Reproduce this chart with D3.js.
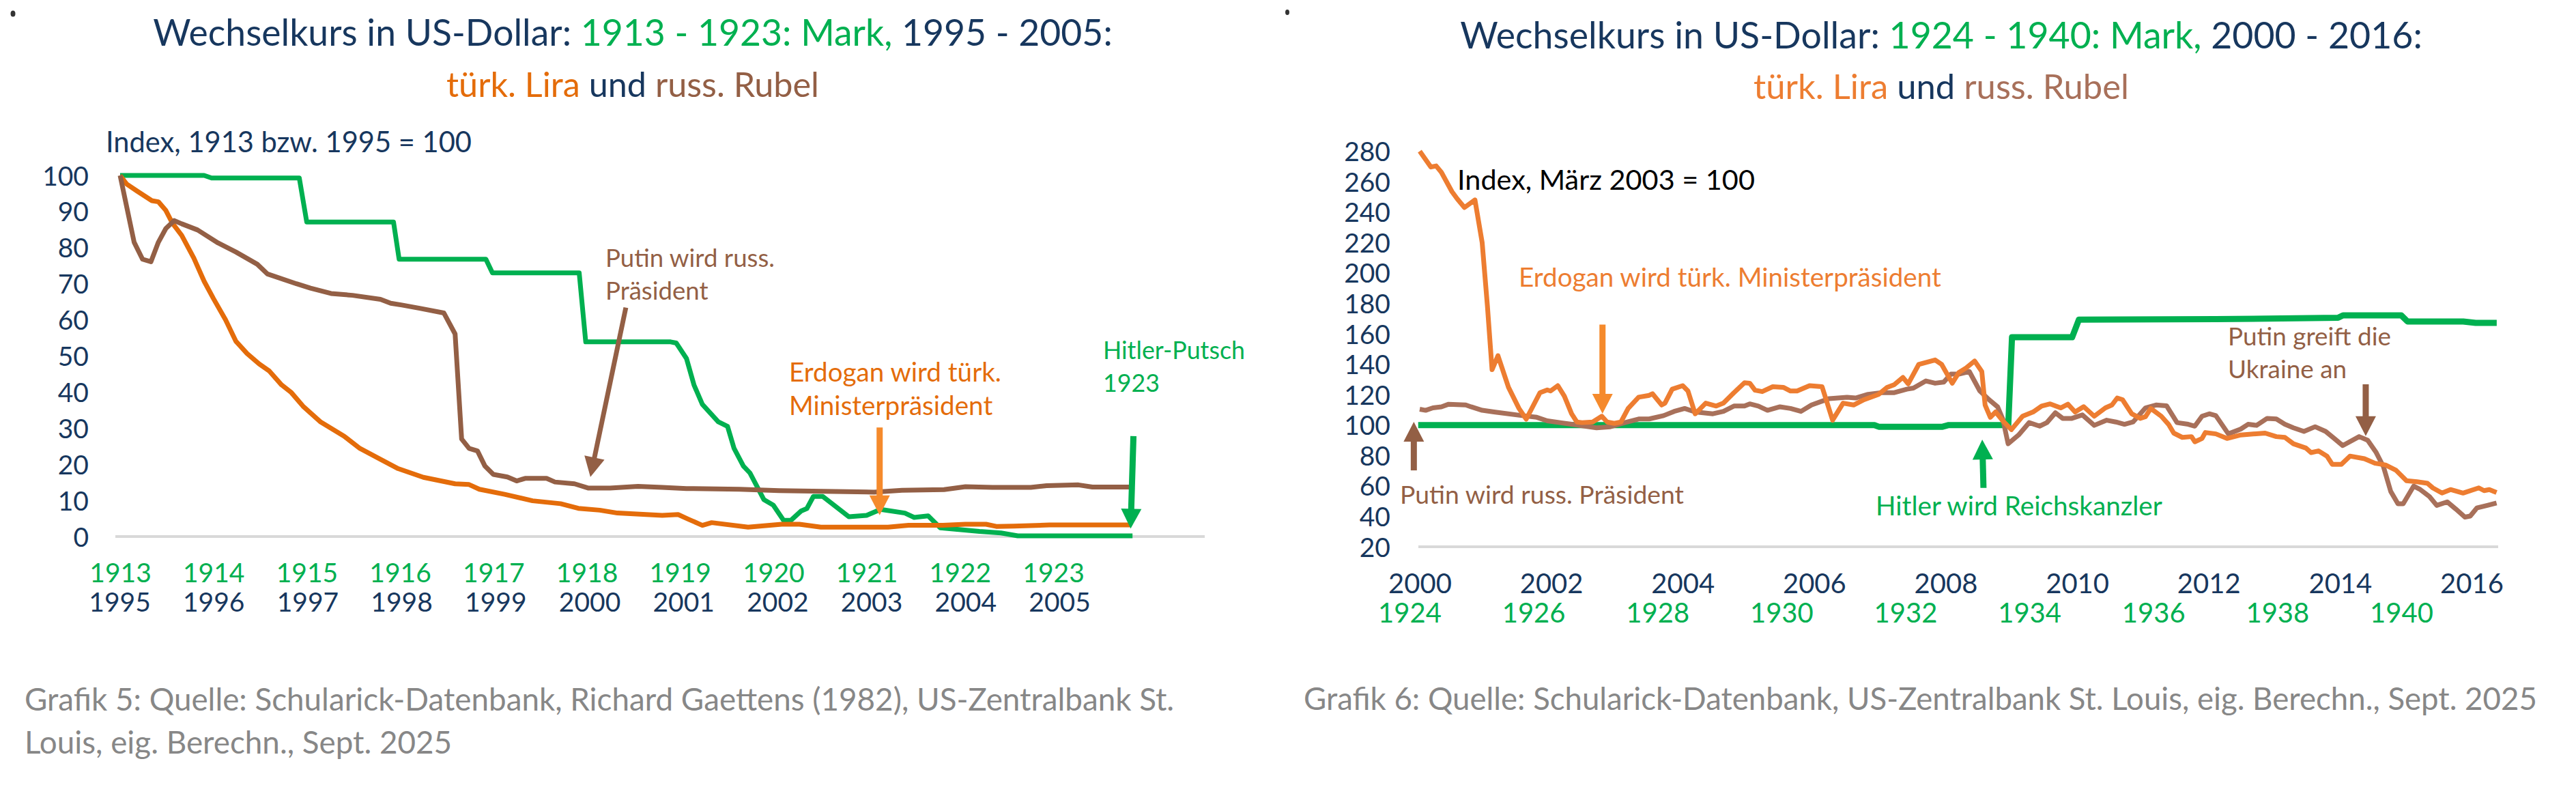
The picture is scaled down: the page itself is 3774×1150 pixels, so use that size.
<!DOCTYPE html>
<html><head><meta charset="utf-8">
<script src="https://cdn.jsdelivr.net/npm/d3@7"></script>
<style>
body{margin:0;background:#fff}
svg{display:block}
text{font-family:Lato,"Open Sans",sans-serif}
</style>
</head><body>
<svg id="chart" width="3774" height="1150"></svg>
<script>
// ================= DATA =================
// Left chart (Grafik 5)
const leftYTicks = [0,10,20,30,40,50,60,70,80,90,100];
const leftGreenYears = [1913,1914,1915,1916,1917,1918,1919,1920,1921,1922,1923];
const leftNavyYears = [1995,1996,1997,1998,1999,2000,2001,2002,2003,2004,2005];

// Mark 1913-1923, index 1913 = 100 (decimal year, value)
const markLeft = [[1913.0,100],[1913.90,100],[1913.98,99.3],[1914.92,99.3],[1915.0,87.1],[1915.93,87.1],[1915.99,76.8],[1916.92,76.8],[1916.99,73.0],[1917.92,73.0],[1917.99,53.9],[1918.90,53.9],[1918.96,53.6],[1919.07,49.3],[1919.15,42],[1919.24,36.6],[1919.41,31.8],[1919.51,30.5],[1919.58,24.4],[1919.68,19.5],[1919.75,17.6],[1919.90,10.2],[1920.0,8.7],[1920.11,4.5],[1920.19,4.5],[1920.30,7.1],[1920.36,7.75],[1920.43,11.1],[1920.53,11.1],[1920.81,5.5],[1921.0,5.85],[1921.15,7.5],[1921.41,6.5],[1921.51,5.3],[1921.66,5.7],[1921.79,2.4],[1922.21,1.4],[1922.44,1.0],[1922.62,0.2],[1923.85,0.2]];

// Turkish lira 1995-2005, index 1995 = 100
const liraLeft = [[1995.0,100],[1995.07,97.6],[1995.18,95.7],[1995.34,93],[1995.41,92.7],[1995.49,90.3],[1995.56,86.8],[1995.66,83.4],[1995.79,77.1],[1995.90,70.7],[1996.0,65.9],[1996.13,60],[1996.24,54.1],[1996.36,50.7],[1996.49,47.8],[1996.60,45.8],[1996.73,42],[1996.83,40],[1996.96,36.1],[1997.15,31.7],[1997.40,27.8],[1997.57,24.4],[1997.79,21.4],[1997.98,18.8],[1998.25,16.4],[1998.59,14.6],[1998.74,14.4],[1998.85,13.1],[1999.12,11.7],[1999.42,9.9],[1999.72,9.1],[1999.91,7.8],[2000.14,7.3],[2000.33,6.5],[2000.81,5.85],[2000.98,6.1],[2001.09,4.8],[2001.24,3.1],[2001.34,3.85],[2001.73,2.6],[2002.09,3.4],[2002.28,3.4],[2002.51,2.6],[2003.23,2.6],[2003.45,3.1],[2003.82,3.1],[2004.06,3.4],[2004.28,3.4],[2004.39,2.8],[2004.58,2.9],[2004.96,3.2],[2005.83,3.2]];

// Russian rubel 1995-2005, index 1995 = 100
const rubelLeft = [[1995.0,100],[1995.05,93.8],[1995.15,81.5],[1995.24,76.8],[1995.33,76.1],[1995.41,81.5],[1995.49,85.3],[1995.58,87.5],[1995.66,86.6],[1995.83,84.9],[1996.05,81.3],[1996.24,78.8],[1996.47,75.4],[1996.58,72.7],[1996.89,70],[1997.04,68.8],[1997.26,67.3],[1997.49,66.8],[1997.79,65.7],[1997.90,64.6],[1998.02,64.1],[1998.21,63.2],[1998.47,61.9],[1998.59,56.1],[1998.66,27.0],[1998.74,24.4],[1998.83,23.7],[1998.91,19.5],[1999.0,17.2],[1999.15,16.5],[1999.25,15.4],[1999.34,16.1],[1999.57,16.1],[1999.66,15.1],[1999.87,14.6],[2000.02,13.4],[2000.25,13.4],[2000.55,13.9],[2000.81,13.6],[2001.07,13.3],[2001.64,13.1],[2002.06,12.7],[2003.08,12.3],[2003.38,12.8],[2003.83,13.0],[2004.06,13.8],[2004.35,13.6],[2004.76,13.6],[2004.93,14.1],[2005.27,14.3],[2005.42,13.7],[2005.83,13.7]];

// Right chart (Grafik 6)
const rightYTicks = [20,40,60,80,100,120,140,160,180,200,220,240,260,280];
const rightNavyYears = [2000,2002,2004,2006,2008,2010,2012,2014,2016];
const rightGreenYears = [1924,1926,1928,1930,1932,1934,1936,1938,1940];

// Mark 1924-1940 (index)
const markRight = [[1924.14,100],[1931.5,100],[1931.57,98.9],[1932.6,98.9],[1932.7,100],[1933.66,100],[1933.72,157.7],[1934.69,157.7],[1934.80,169.3],[1937.0,169.6],[1938.98,170.5],[1939.06,172.1],[1940.0,172.1],[1940.1,168.1],[1941.0,168.1],[1941.2,167.2],[1941.54,167.2]];

// Turkish lira 2000-2016, index März 2003 = 100
const liraRight = [[2000.0,280],[2000.17,269.6],[2000.25,270.3],[2000.33,266.1],[2000.49,253.4],[2000.57,248.7],[2000.68,243],[2000.84,248],[2000.95,219.8],[2001.03,178],[2001.10,136.4],[2001.19,145.6],[2001.35,124.8],[2001.51,110.9],[2001.62,103.9],[2001.83,121.3],[2001.94,123.1],[2001.99,122.4],[2002.10,125.9],[2002.20,119],[2002.31,107.4],[2002.39,102],[2002.47,101.6],[2002.63,102],[2002.77,105.8],[2002.85,102],[2002.96,101.1],[2003.06,102],[2003.17,110.9],[2003.33,118.3],[2003.49,119.5],[2003.54,120.6],[2003.68,113.2],[2003.73,114.4],[2003.84,123.6],[2004.00,125.9],[2004.08,122.4],[2004.19,107.4],[2004.35,114.4],[2004.51,112.5],[2004.62,114.4],[2004.78,121.3],[2004.94,127.8],[2005.02,127.5],[2005.10,122.9],[2005.21,122],[2005.37,125.2],[2005.53,124.8],[2005.64,122.4],[2005.74,122.4],[2005.93,125.9],[2006.12,125.2],[2006.28,103.2],[2006.44,114.4],[2006.60,113.2],[2006.76,116.7],[2006.98,120.2],[2007.11,124.8],[2007.22,126.6],[2007.35,131.3],[2007.43,127.1],[2007.59,139.8],[2007.84,142.8],[2007.94,139.8],[2008.10,127.5],[2008.20,134.5],[2008.31,137.5],[2008.44,142.1],[2008.55,135.2],[2008.60,113.2],[2008.68,105.1],[2008.76,108.6],[2008.87,102.8],[2009.00,97],[2009.17,105.8],[2009.33,108.6],[2009.46,112.5],[2009.59,113.9],[2009.75,111.3],[2009.86,113.7],[2009.97,108.6],[2010.10,112.1],[2010.26,105.8],[2010.43,111.3],[2010.53,113.2],[2010.61,117.8],[2010.69,116.7],[2010.83,107.4],[2010.96,104.4],[2011.04,105.5],[2011.12,110.9],[2011.28,105.8],[2011.39,100.5],[2011.47,94.7],[2011.60,91.9],[2011.74,92.4],[2011.79,89],[2011.90,91.2],[2011.95,95.1],[2012.11,94.2],[2012.28,91.2],[2012.49,93.5],[2012.86,94.7],[2013.03,92.4],[2013.16,91.9],[2013.29,87.7],[2013.48,84.9],[2013.56,81.9],[2013.67,83],[2013.80,79.6],[2013.88,74.2],[2014.02,74.2],[2014.15,79.6],[2014.37,77.9],[2014.53,74.9],[2014.69,73.8],[2014.85,70.3],[2015.01,63.4],[2015.17,62.7],[2015.33,61.7],[2015.41,58.7],[2015.55,55.3],[2015.68,57.6],[2015.87,55.3],[2016.11,58.7],[2016.19,56.9],[2016.27,57.6],[2016.38,55.7]];

// Russian rubel 2000-2016, index März 2003 = 100
const rubelRight = [[2000.0,110.4],[2000.09,109.7],[2000.20,111.3],[2000.33,112],[2000.44,113.7],[2000.70,113.2],[2000.78,112],[2000.95,109.7],[2001.13,108.6],[2001.56,106.2],[2001.78,105.1],[2001.94,102.8],[2002.31,100.5],[2002.69,98.2],[2002.90,98.9],[2003.12,101.6],[2003.33,104],[2003.49,104],[2003.71,106.2],[2003.87,109],[2004.03,110.9],[2004.19,108.6],[2004.46,107.4],[2004.62,109],[2004.78,112.5],[2004.94,112.5],[2005.02,113.9],[2005.15,112.5],[2005.29,109.7],[2005.48,112],[2005.64,110.9],[2005.80,109],[2005.96,113.2],[2006.23,117.4],[2006.50,118.3],[2006.63,117.8],[2006.82,120.2],[2007.03,121.3],[2007.22,121.3],[2007.41,123.6],[2007.51,124.3],[2007.70,129],[2007.84,127.5],[2007.97,128.2],[2008.08,133.5],[2008.20,133.5],[2008.36,135.2],[2008.52,122.4],[2008.66,116.7],[2008.79,112],[2008.87,103.9],[2008.95,87.7],[2009.11,93.5],[2009.27,101.6],[2009.43,99.3],[2009.54,101.6],[2009.67,108.1],[2009.78,104.4],[2009.92,104.4],[2010.08,106.7],[2010.26,99.8],[2010.45,103.2],[2010.59,102],[2010.72,100.5],[2010.85,102],[2011.04,111.3],[2011.20,113.2],[2011.36,112.7],[2011.52,101.6],[2011.69,100.5],[2011.79,99.3],[2011.90,105.8],[2012.01,107.4],[2012.11,106.2],[2012.30,94.2],[2012.49,97.4],[2012.60,100.5],[2012.73,99.8],[2012.89,104.4],[2013.03,104],[2013.16,100.5],[2013.29,98.2],[2013.45,95.8],[2013.62,98.9],[2013.78,95.8],[2013.91,91.2],[2014.04,86.5],[2014.29,92.4],[2014.42,90],[2014.55,81.9],[2014.66,72.6],[2014.77,56.4],[2014.88,48.3],[2014.96,48.3],[2015.12,59.9],[2015.22,57.6],[2015.36,53],[2015.47,47.2],[2015.63,49.5],[2015.76,44.8],[2015.90,39.5],[2015.98,40.2],[2016.08,45.5],[2016.24,47.2],[2016.38,48.8]];

// Annotation arrows, in data units: [fromYear, fromValue, toYear, toValue]
const arrowPutinLeft = [2000.42,63.4,2000.04,16.5];
const arrowErdoganLeft = [2003.14,30.2,2003.14,5.9];
const arrowPutschLeft = [1923.86,27.8,1923.83,2.2];
const arrowErdoganRight = [2002.78,166,2002.78,107.5];
const arrowPutinRight = [1999.91,70.2,1999.91,102.1];
const arrowHitlerRight = [1933.26,58.7,1933.24,90.4];
const arrowUkraineRight = [2014.39,126.8,2014.39,92.8];

// ================= STYLE =================
const C = {
  navy:'#17375E', green:'#00B050', orangeL:'#E46C0A', orangeR:'#ED7D31',
  brownL:'#935F45', brownR:'#A8705A', arrowOrange:'#F58A2C', gray:'#D9D9D9', src:'#878787'
};

const svg = d3.select('#chart');

function fitText(sel, target){
  const w = sel.node().getComputedTextLength();
  const fs = parseFloat(sel.attr('font-size'));
  const nf = fs*target/w;
  sel.attr('font-size', nf);
  return nf;
}
function multiText(g, x, y0, lines, lh, color, size, target){
  const t0 = g.append('text').attr('x',x).attr('y',y0).attr('fill',color).attr('font-size',size).text(lines[0]);
  const fs = target ? fitText(t0, target) : size;
  lines.slice(1).forEach((l,i)=>{
    g.append('text').attr('x',x).attr('y',y0+lh*(i+1)).attr('fill',color).attr('font-size',fs).text(l);
  });
}
function titleLine(g, cx, y, parts, target){
  const t = g.append('text').attr('x',cx).attr('y',y).attr('text-anchor','middle').attr('font-size',54);
  parts.forEach(p=>t.append('tspan').attr('fill',p[1]).text(p[0]));
  fitText(t, target);
}
function arrow(g, xs, ys, a, color, sw){
  const x1=xs(a[0]), y1=ys(a[1]), x2=xs(a[2]), y2=ys(a[3]);
  const dx=x2-x1, dy=y2-y1, L=Math.hypot(dx,dy), ux=dx/L, uy=dy/L;
  const hl=29, hw=15;
  const bx=x2-ux*hl, by=y2-uy*hl;
  g.append('line').attr('x1',x1).attr('y1',y1).attr('x2',bx+ux*3).attr('y2',by+uy*3)
    .attr('stroke',color).attr('stroke-width',sw);
  g.append('path').attr('d',`M${x2},${y2}L${bx-uy*hw},${by+ux*hw}L${bx+uy*hw},${by-ux*hw}Z`).attr('fill',color);
}
function series(g, data, xs, ys, color, sw){
  g.append('path').datum(data)
    .attr('d', d3.line().x(d=>xs(d[0])).y(d=>ys(d[1])))
    .attr('fill','none').attr('stroke',color).attr('stroke-width',sw)
    .attr('stroke-linejoin','round').attr('stroke-linecap','butt');
}

// ================= LEFT CHART =================
const L = svg.append('g');
const yL = d3.scaleLinear().domain([0,100]).range([786,257]);
const xLg = d3.scaleLinear().domain([1913,1923]).range([176,1543]);   // Mark data + green labels
const xLm = d3.scaleLinear().domain([1995,2005]).range([176,1543]);   // lira/rubel data
const xLn = d3.scaleLinear().domain([1995,2005]).range([175,1552]);   // navy labels

titleLine(L, 927, 67, [['Wechselkurs in US-Dollar: ',C.navy],['1913 - 1923: Mark,',C.green],[' 1995 - 2005:',C.navy]], 1406);
titleLine(L, 927, 142, [['türk. Lira',C.orangeL],[' und ',C.navy],['russ. Rubel',C.brownL]], 546);

multiText(L, 155, 223, ['Index, 1913 bzw. 1995 = 100'], 0, C.navy, 40, 536);

// y axis labels
L.append('g').attr('transform','translate(130,0)')
  .call(d3.axisLeft(yL).tickValues(leftYTicks).tickSize(0).tickPadding(0))
  .call(a=>{a.select('.domain').remove(); a.selectAll('text').attr('font-size',39).attr('fill',C.navy).attr('font-family','Lato').attr('dy','0.36em');});

// baseline
L.append('line').attr('x1',169).attr('x2',1765).attr('y1',yL(0)).attr('y2',yL(0)).attr('stroke',C.gray).attr('stroke-width',4);

// x labels
L.append('g').attr('transform','translate(0,853)')
  .call(d3.axisBottom(xLg).tickValues(leftGreenYears).tickFormat(d3.format('d')).tickSize(0).tickPadding(0))
  .call(a=>{a.select('.domain').remove(); a.selectAll('text').attr('font-size',39).attr('fill',C.green).attr('font-family','Lato').attr('dy',0);});
L.append('g').attr('transform','translate(0,896)')
  .call(d3.axisBottom(xLn).tickValues(leftNavyYears).tickFormat(d3.format('d')).tickSize(0).tickPadding(0))
  .call(a=>{a.select('.domain').remove(); a.selectAll('text').attr('font-size',39).attr('fill',C.navy).attr('font-family','Lato').attr('dy',0);});

series(L, markLeft, xLg, yL, C.green, 7);
series(L, liraLeft, xLm, yL, C.orangeL, 7);
series(L, rubelLeft, xLm, yL, C.brownL, 7);

multiText(L, 887, 391, ['Putin wird russ.','Präsident'], 48, C.brownL, 40, 248);
arrow(L, xLm, yL, arrowPutinLeft, C.brownL, 7);
multiText(L, 1156, 559, ['Erdogan wird türk.','Ministerpräsident'], 49, C.orangeL, 40, 311);
arrow(L, xLm, yL, arrowErdoganLeft, C.arrowOrange, 9);
multiText(L, 1616, 526, ['Hitler-Putsch','1923'], 48, C.green, 40, 208);
arrow(L, xLg, yL, arrowPutschLeft, C.green, 9);

multiText(L, 36, 1041, ['Grafik 5: Quelle: Schularick-Datenbank, Richard Gaettens (1982), US-Zentralbank St.','Louis, eig. Berechn., Sept. 2025'], 63, C.src, 46, 1685);

// small stray marks at the top edge of the original
L.append('ellipse').attr('cx',19).attr('cy',20).attr('rx',3.5).attr('ry',4.5).attr('fill','#333');
L.append('ellipse').attr('cx',1886).attr('cy',18).attr('rx',3).attr('ry',4).attr('fill','#333');

// ================= RIGHT CHART =================
const R = svg.append('g');
const yR = d3.scaleLinear().domain([20,280]).range([801,221.5]);
const xRm = d3.scaleLinear().domain([2000,2016]).range([2080,3621]);  // lira/rubel + navy labels
const xRg = d3.scaleLinear().domain([1924,1940]).range([2065,3518]);  // Mark + green labels

titleLine(R, 2844, 71, [['Wechselkurs in US-Dollar: ',C.navy],['1924 - 1940: Mark,',C.green],[' 2000 - 2016:',C.navy]], 1410);
titleLine(R, 2844, 145, [['türk. Lira',C.orangeR],[' und ',C.navy],['russ. Rubel',C.brownR]], 550);

R.append('g').attr('transform','translate(2037,0)')
  .call(d3.axisLeft(yR).tickValues(rightYTicks).tickSize(0).tickPadding(0))
  .call(a=>{a.select('.domain').remove(); a.selectAll('text').attr('font-size',39).attr('fill',C.navy).attr('font-family','Lato').attr('dy','0.36em');});

R.append('line').attr('x1',2078).attr('x2',3660).attr('y1',yR(20)).attr('y2',yR(20)).attr('stroke',C.gray).attr('stroke-width',4);

R.append('g').attr('transform','translate(0,869)')
  .call(d3.axisBottom(xRm).tickValues(rightNavyYears).tickFormat(d3.format('d')).tickSize(0).tickPadding(0))
  .call(a=>{a.select('.domain').remove(); a.selectAll('text').attr('font-size',40).attr('fill',C.navy).attr('font-family','Lato').attr('dy',0);});
R.append('g').attr('transform','translate(0,912)')
  .call(d3.axisBottom(xRg).tickValues(rightGreenYears).tickFormat(d3.format('d')).tickSize(0).tickPadding(0))
  .call(a=>{a.select('.domain').remove(); a.selectAll('text').attr('font-size',40).attr('fill',C.green).attr('font-family','Lato').attr('dy',0);});

series(R, markRight, xRg, yR, C.green, 9);
series(R, rubelRight, xRm, yR, C.brownR, 7);
series(R, liraRight, xRm, yR, C.orangeR, 7);

multiText(R, 2135, 278, ['Index, März 2003 = 100'], 0, '#000', 40, 436);
multiText(R, 2225, 420, ['Erdogan wird türk. Ministerpräsident'], 0, C.orangeR, 40, 619);
arrow(R, xRm, yR, arrowErdoganRight, C.arrowOrange, 9);
multiText(R, 2051, 738, ['Putin wird russ. Präsident'], 0, C.brownL, 40, 416);
arrow(R, xRm, yR, arrowPutinRight, C.brownL, 9);
multiText(R, 2748, 755, ['Hitler wird Reichskanzler'], 0, C.green, 40, 420);
arrow(R, xRg, yR, arrowHitlerRight, C.green, 9);
multiText(R, 3264, 506, ['Putin greift die','Ukraine an'], 48, C.brownL, 40, 239);
arrow(R, xRm, yR, arrowUkraineRight, C.brownL, 9);

multiText(R, 1910, 1040, ['Grafik 6: Quelle: Schularick-Datenbank, US-Zentralbank St. Louis, eig. Berechn., Sept. 2025'], 0, C.src, 46, 1807);
</script>
</body></html>
